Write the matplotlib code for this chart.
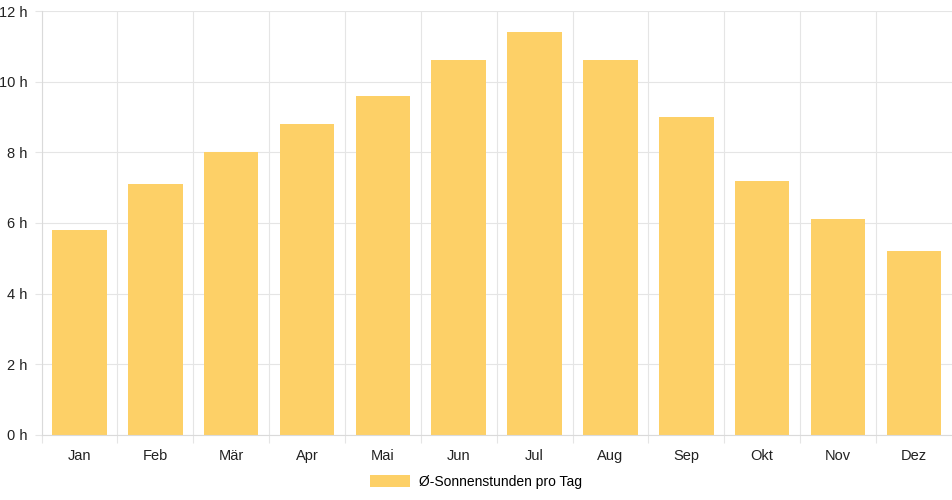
import matplotlib
matplotlib.use('Agg')
import matplotlib.pyplot as plt
import numpy as np

plt.rcParams['font.family'] = ['Liberation Sans', 'DejaVu Sans']

months = ['Jan', 'Feb', 'Mär', 'Apr', 'Mai', 'Jun', 'Jul', 'Aug', 'Sep', 'Okt', 'Nov', 'Dez']
sun_hours = [5.8, 7.1, 8.0, 8.8, 9.6, 10.6, 11.4, 10.6, 9.0, 7.2, 6.1, 5.2]
series_label = 'Ø-Sonnenstunden pro Tag'
yticks = [0, 2, 4, 6, 8, 10, 12]

bar_color = '#FDD067'
grid_color = '#E5E5E5'

fig = plt.figure(figsize=(9.52, 5.0), dpi=100)
ax = fig.add_axes([41.5/952, 65/500, (951.8-41.5)/952, (435-11)/500])

x = np.arange(len(months))
ax.bar(x, sun_hours, width=0.72, color=bar_color, label=series_label, zorder=2)

ax.set_xlim(-0.5, len(months) - 0.5)
ax.set_ylim(0, 12)
ax.set_yticks(yticks)
ax.set_yticklabels(['%d h' % v for v in yticks])
ax.set_xticks(x)
ax.set_xticklabels(months)
ax.set_xticks(np.arange(len(months)) - 0.5, minor=True)

ax.tick_params(axis='x', which='major', length=0, pad=10, labelsize=10.5, colors='#222222')
ax.tick_params(axis='x', which='minor', length=6, width=0.8, color=grid_color)
ax.tick_params(axis='y', length=5, width=0.8, color=grid_color, pad=5, labelsize=10.5, labelcolor='#222222')

ax.grid(True, axis='y', color=grid_color, lw=0.8, zorder=0)
ax.grid(True, axis='x', which='minor', color=grid_color, lw=0.8, zorder=0)
for s in ['top', 'right']:
    ax.spines[s].set_visible(False)
for s in ['left', 'bottom']:
    ax.spines[s].set_color('#DADADA')
    ax.spines[s].set_linewidth(0.8)

leg = fig.legend(loc='center', bbox_to_anchor=(476/952, 1 - 482/500), frameon=False,
                 handlelength=2.9, handleheight=0.95, handletextpad=0.6, fontsize=10)

fig.savefig('out.png', dpi=100)
